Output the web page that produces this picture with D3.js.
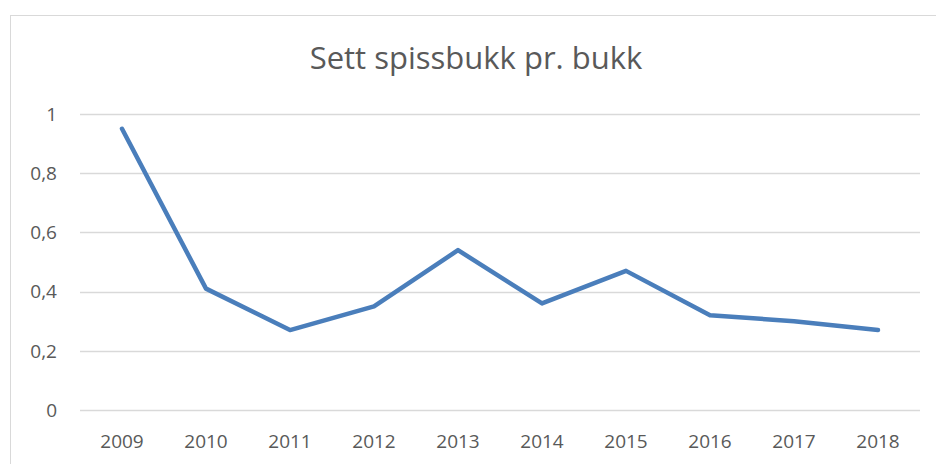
<!DOCTYPE html>
<html>
<head>
<meta charset="utf-8">
<script src="https://cdn.jsdelivr.net/npm/d3@7"></script>
<style>
  body { margin: 0; background: #fff; }
  text { font-family: "Open Sans", sans-serif; fill: #595959; }
</style>
</head>
<body>
<script>
const years = ["2009", "2010", "2011", "2012", "2013", "2014", "2015", "2016", "2017", "2018"];
const values = [0.95, 0.41, 0.27, 0.35, 0.54, 0.36, 0.47, 0.32, 0.30, 0.27];
const yTicks = [0, 0.2, 0.4, 0.6, 0.8, 1];

const width = 936;
const height = 464;
const margin = { top: 114, right: 16, bottom: 54, left: 80 };

const svg = d3.select("body")
  .append("svg")
  .attr("width", width)
  .attr("height", height);

// chart frame (runs off the right and bottom edge)
svg.append("rect")
  .attr("x", 10.5)
  .attr("y", 15.5)
  .attr("width", width + 20)
  .attr("height", height + 20)
  .attr("fill", "none")
  .attr("stroke", "#d9d9d9")
  .attr("stroke-width", 1);

const x = d3.scaleBand()
  .domain(years)
  .range([margin.left, width - margin.right]);

const y = d3.scaleLinear()
  .domain([0, 1])
  .range([height - margin.bottom, margin.top]);

// gridlines
svg.append("g")
  .selectAll("line")
  .data(yTicks)
  .join("line")
  .attr("x1", margin.left)
  .attr("x2", width - margin.right)
  .attr("y1", (d) => Math.round(y(d)) + 0.5)
  .attr("y2", (d) => Math.round(y(d)) + 0.5)
  .attr("stroke", "#d9d9d9")
  .attr("stroke-width", 1.5);

// y labels
svg.append("g")
  .selectAll("text")
  .data(yTicks)
  .join("text")
  .attr("x", 57)
  .attr("y", (d) => y(d))
  .attr("dy", "0.36em")
  .attr("text-anchor", "end")
  .style("font-size", "19px")
  .text((d) => d3.format(".1f")(d).replace(/\.0$/, "").replace(".", ","));

// x labels
svg.append("g")
  .selectAll("text")
  .data(years)
  .join("text")
  .attr("x", (d) => x(d) + x.bandwidth() / 2)
  .attr("y", 441)
  .attr("dy", "0.36em")
  .attr("text-anchor", "middle")
  .style("font-size", "19px")
  .text((d) => d);

// the line
const line = d3.line()
  .x((d, i) => x(years[i]) + x.bandwidth() / 2)
  .y((d) => y(d));

svg.append("path")
  .datum(values)
  .attr("d", line)
  .attr("fill", "none")
  .attr("stroke", "#4a7ebb")
  .attr("stroke-width", 4.5)
  .attr("stroke-linejoin", "round")
  .attr("stroke-linecap", "round");

// title
svg.append("text")
  .attr("x", 476)
  .attr("y", 69)
  .attr("text-anchor", "middle")
  .style("font-size", "31px")
  .text("Sett spissbukk pr. bukk");
</script>
</body>
</html>
